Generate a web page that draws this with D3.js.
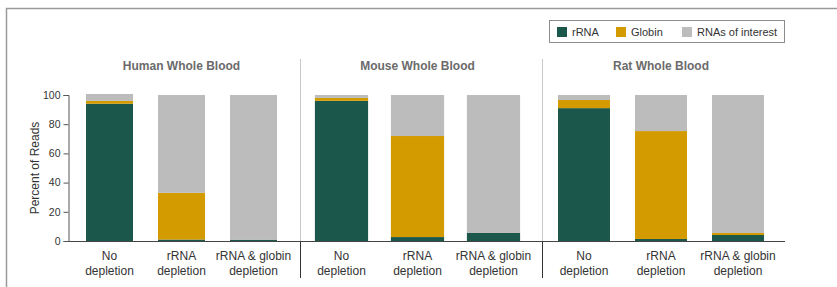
<!DOCTYPE html>
<html><head><meta charset="utf-8">
<script src="https://cdn.jsdelivr.net/npm/d3@7"></script>
<style>
html,body{margin:0;padding:0;background:#fff;}
svg{display:block;font-family:"Liberation Sans",Arial,Helvetica,sans-serif;}
</style></head>
<body>
<svg id="c" width="837" height="287"></svg>
<script>
// ---- data ----
const panels = ["Human Whole Blood", "Mouse Whole Blood", "Rat Whole Blood"];
const conditions = ["No depletion", "rRNA depletion", "rRNA & globin depletion"];
const conditionLines = [["No", "depletion"], ["rRNA", "depletion"], ["rRNA & globin", "depletion"]];
const seriesNames = ["rRNA", "Globin", "RNAs of interest"];
const rRNA     = [[94, 1, 0.9], [96, 2.7, 5.5], [91, 1.4, 4.1]];
const globin   = [[2, 32, 0], [2, 69.2, 0], [5.6, 73.9, 1.4]];
const interest = [[4.7, 67, 99.1], [2, 28.1, 94.5], [3.4, 24.7, 94.5]];
const yTicks = [0, 20, 40, 60, 80, 100];

// ---- layout ----
const colors = {"rRNA": "#1b574a", "Globin": "#d39b00", "RNAs of interest": "#bbbcbb"};
const svg = d3.select("#c");
const y = d3.scaleLinear().domain([0, 100]).range([241, 95]);
const panelBounds = [[68, 300.5], [300.5, 542.5], [542.5, 785]];
const bandRanges = [[73.5, 289.5], [303.5, 531.5], [545.5, 776.5]];
const padInner = [0.347, 0.30, 0.325];

// frame
svg.append("path").attr("d", "M6.5,287 V8.5 H837").attr("fill", "none")
  .attr("stroke", "#9a9a9a").attr("stroke-width", 1.5);

// legend
const lg = svg.append("g");
lg.append("rect").attr("x", 549.5).attr("y", 20.5).attr("width", 235).attr("height", 22)
  .attr("fill", "#fff").attr("stroke", "#8c8c8c").attr("stroke-width", 1);
const legX = [557, 616, 682];
seriesNames.forEach((s, i) => {
  lg.append("rect").attr("x", legX[i]).attr("y", 27).attr("width", 10).attr("height", 10).attr("fill", colors[s]);
  lg.append("text").attr("x", legX[i] + 15).attr("y", 35.5).attr("font-size", 11).attr("fill", "#333").text(s);
});

// stacked data
const stack = d3.stack().keys(seriesNames);

panels.forEach((p, pi) => {
  const x = d3.scaleBand().domain(conditions).range(bandRanges[pi])
    .paddingInner(padInner[pi]).paddingOuter(padInner[pi] / 2);
  const rows = conditions.map((c, ci) => ({
    cond: c, "rRNA": rRNA[pi][ci], "Globin": globin[pi][ci], "RNAs of interest": interest[pi][ci]
  }));
  const st = stack(rows);
  const g = svg.append("g");
  st.forEach(layer => {
    g.selectAll(null).data(layer).join("rect")
      .attr("x", d => x(d.data.cond))
      .attr("width", x.bandwidth())
      .attr("y", d => y(d[1]))
      .attr("height", d => y(d[0]) - y(d[1]))
      .attr("fill", colors[layer.key]);
  });
  // title
  svg.append("text").attr("x", x(conditions[1]) + x.bandwidth() / 2).attr("y", 70)
    .attr("text-anchor", "middle").attr("font-size", 12).attr("font-weight", "bold")
    .attr("fill", "#6b6b6b").text(p);
  // x labels
  conditions.forEach((c, ci) => {
    const t = svg.append("text").attr("text-anchor", "middle").attr("font-size", 12).attr("fill", "#333");
    conditionLines[ci].forEach((ln, li) => {
      t.append("tspan").attr("x", x(c) + x.bandwidth() / 2).attr("y", 260 + li * 14.5).text(ln);
    });
  });
});

// dividers
[300.5, 542.5].forEach(xx => {
  svg.append("line").attr("x1", xx).attr("x2", xx).attr("y1", 59).attr("y2", 241)
    .attr("stroke", "#c8c8c8").attr("stroke-width", 1);
  svg.append("line").attr("x1", xx).attr("x2", xx).attr("y1", 241).attr("y2", 278)
    .attr("stroke", "#333").attr("stroke-width", 1);
});

// baseline
svg.append("line").attr("x1", 68).attr("x2", 785).attr("y1", 241.5).attr("y2", 241.5)
  .attr("stroke", "#444").attr("stroke-width", 1.2);

// y axis
const ya = svg.append("g").attr("transform", "translate(68.5,0)")
  .call(d3.axisLeft(y).tickValues(yTicks).tickSize(5).tickPadding(3));
ya.select(".domain").attr("stroke", "#555");
ya.selectAll(".tick line").attr("stroke", "#555");
ya.selectAll(".tick text").attr("font-size", 10.5).attr("fill", "#333")
  .attr("font-family", "'Liberation Sans',Arial,sans-serif");

svg.append("text").attr("transform", "translate(39,168) rotate(-90)")
  .attr("text-anchor", "middle").attr("font-size", 12).attr("fill", "#333").text("Percent of Reads");
</script>
</body></html>
